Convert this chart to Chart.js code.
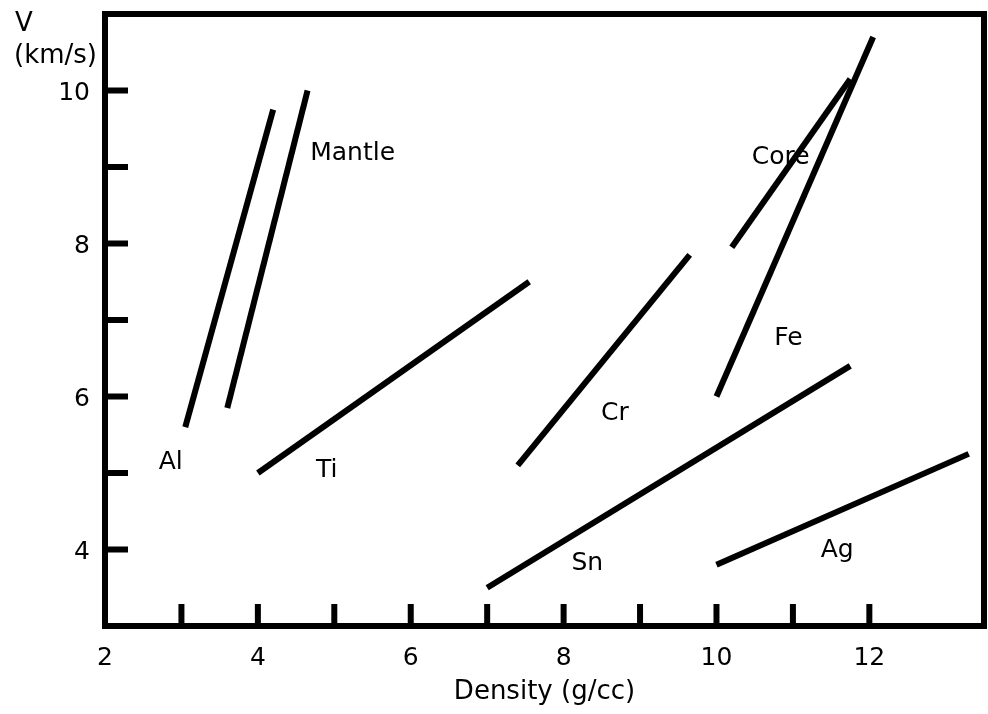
<!DOCTYPE html>
<html>
<head>
<meta charset="utf-8">
<script src="https://cdn.jsdelivr.net/npm/chart.js@4"></script>
<style>
  body { margin: 0; background: #fff; }
  canvas { display: block; }
</style>
</head>
<body>
<canvas id="chart" width="988" height="714"></canvas>
<script>
(function () {

    // velocity vs density, one straight segment per material
    let materials = ["Al", "Mantle", "Ti", "Cr", "Core", "Fe", "Sn", "Ag"],
        densityStart = [3.05, 3.6, 4.0, 7.4, 10.2, 10.0, 7.0, 10.0],
        velocityStart = [5.6, 5.85, 5.0, 5.1, 7.95, 6.0, 3.5, 3.8],
        densityEnd = [4.2, 4.65, 7.55, 9.65, 11.75, 12.05, 11.75, 13.3],
        velocityEnd = [9.75, 10.0, 7.5, 7.85, 10.15, 10.7, 6.4, 5.25],
        // where each name sits, in density / velocity units
        nameDensity = [2.86, 5.24, 4.9, 8.67, 10.84, 10.94, 8.31, 11.58],
        nameVelocity = [5.16, 9.2, 5.06, 5.8, 9.15, 6.78, 3.84, 4.01],
        densityLabels = [2, 4, 6, 8, 10, 12],
        velocityLabels = [4, 6, 8, 10];

    const FONT = "'DejaVu Sans', sans-serif";

    let datasets = materials.map(function (name, i) {
        return {
            label: name,
            data: [
                {x: densityStart[i], y: velocityStart[i]},
                {x: densityEnd[i], y: velocityEnd[i]}
            ],
            showLine: true,
            borderColor: "#000",
            borderWidth: 6,
            pointRadius: 0,
            pointHoverRadius: 0,
            fill: false
        };
    });

    // heavy frame plus inward tick marks
    let framePlugin = {
        id: "frame",
        afterDraw(chart) {
            let ctx = chart.ctx,
                a = chart.chartArea,
                xs = chart.scales.x,
                ys = chart.scales.y;
            ctx.save();
            ctx.strokeStyle = "#000";
            ctx.lineWidth = 6;
            ctx.lineCap = "butt";
            ctx.strokeRect(a.left, a.top, a.right - a.left, a.bottom - a.top);

            ctx.beginPath();
            xs.ticks.forEach(function (t) {
                if (t.value <= xs.min || t.value >= xs.max || t.value % 1 !== 0) return;
                let px = xs.getPixelForValue(t.value);
                ctx.moveTo(px, a.bottom);
                ctx.lineTo(px, a.bottom - 22);
            });
            ys.ticks.forEach(function (t) {
                if (t.value <= ys.min || t.value >= ys.max || t.value % 1 !== 0) return;
                let py = ys.getPixelForValue(t.value);
                ctx.moveTo(a.left, py);
                ctx.lineTo(a.left + 23, py);
            });
            ctx.stroke();

            // material names
            ctx.fillStyle = "#000";
            ctx.font = "25px " + FONT;
            ctx.textAlign = "center";
            ctx.textBaseline = "middle";
            materials.forEach(function (name, i) {
                ctx.fillText(name, xs.getPixelForValue(nameDensity[i]), ys.getPixelForValue(nameVelocity[i]) + 2);
            });

            // y axis caption, upper left
            ctx.font = "26px " + FONT;
            ctx.textAlign = "left";
            ctx.fillText("V", 15, 24);
            ctx.fillText("(km/s)", 14, 56);
            ctx.restore();
        }
    };

    function noEdgePadding(s) {
        s.paddingTop = 0;
        s.paddingBottom = 0;
        s.paddingLeft = 0;
        s.paddingRight = 0;
    }

    new Chart(document.getElementById("chart"), {
        type: "scatter",
        data: { datasets: datasets },
        options: {
            responsive: false,
            animation: false,
            layout: { padding: { top: 14, right: 4, left: 0, bottom: 0 } },
            plugins: {
                legend: { display: false },
                tooltip: { enabled: false }
            },
            scales: {
                x: {
                    type: "linear",
                    min: 2,
                    max: 13.5,
                    grid: { display: false, drawTicks: false },
                    border: { display: false },
                    ticks: {
                        stepSize: 1,
                        autoSkip: false,
                        maxRotation: 0,
                        padding: 17,
                        color: "#000",
                        font: { family: FONT, size: 25 },
                        callback: v => densityLabels.includes(v) ? v : ""
                    },
                    title: {
                        display: true,
                        text: "Density (g/cc)",
                        color: "#000",
                        font: { family: FONT, size: 26 },
                        padding: { top: 0, bottom: 6 }
                    },
                    afterFit: s => { s.height = 88; noEdgePadding(s); }
                },
                y: {
                    type: "linear",
                    min: 3,
                    max: 11,
                    grid: { display: false, drawTicks: false },
                    border: { display: false },
                    ticks: {
                        stepSize: 1,
                        autoSkip: false,
                        padding: 15,
                        labelOffset: 3,
                        color: "#000",
                        font: { family: FONT, size: 25 },
                        callback: v => velocityLabels.includes(v) ? v : ""
                    },
                    afterFit: s => { s.width = 105; noEdgePadding(s); }
                }
            }
        },
        plugins: [framePlugin]
    });
})();
</script>
</body>
</html>
